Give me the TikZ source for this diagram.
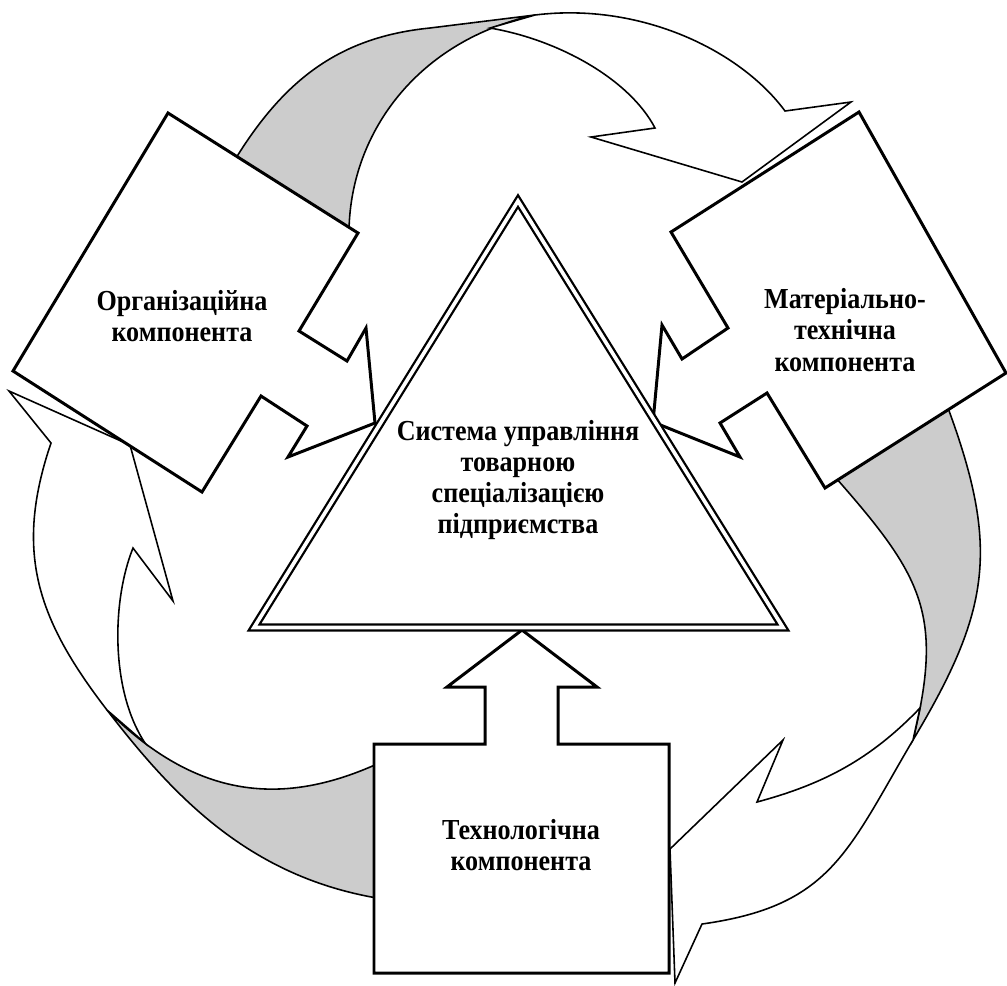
\documentclass[tikz,border=0pt]{standalone}
\usepackage{fontspec}
\setmainfont{Liberation Serif}
\newfontfamily\compfont{Liberation Serif}[FakeStretch=0.9]
\usetikzlibrary{calc}
\tikzset{
	compbox/.style={draw=black, fill=white, line width=1.7pt, line join=miter},
	bandfront/.style={draw=black, fill=white, line width=0.9pt, line join=miter},
	bandback/.style={draw=black, fill=black!20, line width=0.9pt},
	comptext/.style={align=center, font=\compfont\fontsize{16.5}{17.8}\selectfont\bfseries},
}

\begin{document}
\begin{tikzpicture}[x=0.02cm, y=-0.02cm]
			%%%%% START %%%%%
			\useasboundingbox (0,0) rectangle (1007,985);
			
			%% top curved arrow
			\draw[bandback] (236,158) .. controls (285,79) and (340,37) .. (430,28) -- (535,15)
				.. controls (420,40) and (351,130) .. (349,230) -- cycle;
			\draw[bandfront] (490,28) -- (535,15) .. controls (640,2) and (740,50) .. (785,111)
				-- (851,102) -- (742,182) -- (591,137)
				-- (655,128) .. controls (630,80) and (560,40) .. (490,28) -- cycle;
			
			%% right curved arrow
			\draw[bandback] (948,408) .. controls (1000,549) and (990,611) .. (913,740)
				.. controls (944,614) and (922,576) .. (836,478) -- cycle;
			\draw[bandfront] (920,708) -- (913,740) .. controls (847,852) and (831,906) .. (702,924)
				-- (675,983) -- (670,849) -- (783,740)
				-- (757,802) .. controls (824,784) and (871,759) .. (920,708) -- cycle;
			
			%% left curved arrow
			\draw[bandback] (377,898) .. controls (249,876) and (174,797) .. (107,710)
				.. controls (192,795) and (277,809) .. (377,764) -- cycle;
			\draw[bandfront] (145,743) -- (107,710) .. controls (37,619) and (14,552) .. (51,443)
				-- (9,391) -- (130,445) -- (173,601)
				-- (133,548) .. controls (112,600) and (110,690) .. (145,743) -- cycle;
			
			%% component boxes
			\draw[compbox] (168,113) -- (358,233) -- (299,331) -- (347,361) -- (366,328) -- (375,423)
				-- (288,457) -- (307,426) -- (261,396) -- (202,492) -- (13,371) -- cycle;
			\draw[compbox] (859,112) -- (1006,373) -- (825,488) -- (767,393) -- (720,423) -- (740,457)
				-- (653,422) -- (662,325) -- (682,359) -- (728,328) -- (671,232) -- cycle;
			\draw[compbox] (374,744) -- (485,744) -- (485,687) -- (447,687) -- (522,630) -- (597,687)
				-- (558,687) -- (558,744) -- (669,744) -- (669,973) -- (374,973) -- cycle;
			
			%% central triangle
			\draw[line width=1.3pt, double=white, double distance=2.1pt, fill=white] (518,201) -- (783,627.5) -- (254,627.5) -- cycle;
			
			\node[comptext] (orgtext) at (182,316) {Організаційна\\компонента};
			\node[comptext] (mattext) at (845,330) {Матеріально-\\технічна\\компонента};
			\node[comptext] (systext) at (518,480) {Система управління\\товарною\\спеціалізацією\\підприємства};
			\node[comptext] (techtext) at (521,845) {Технологічна\\компонента};
			
			%%%%% END %%%%%
\end{tikzpicture}
\end{document}
